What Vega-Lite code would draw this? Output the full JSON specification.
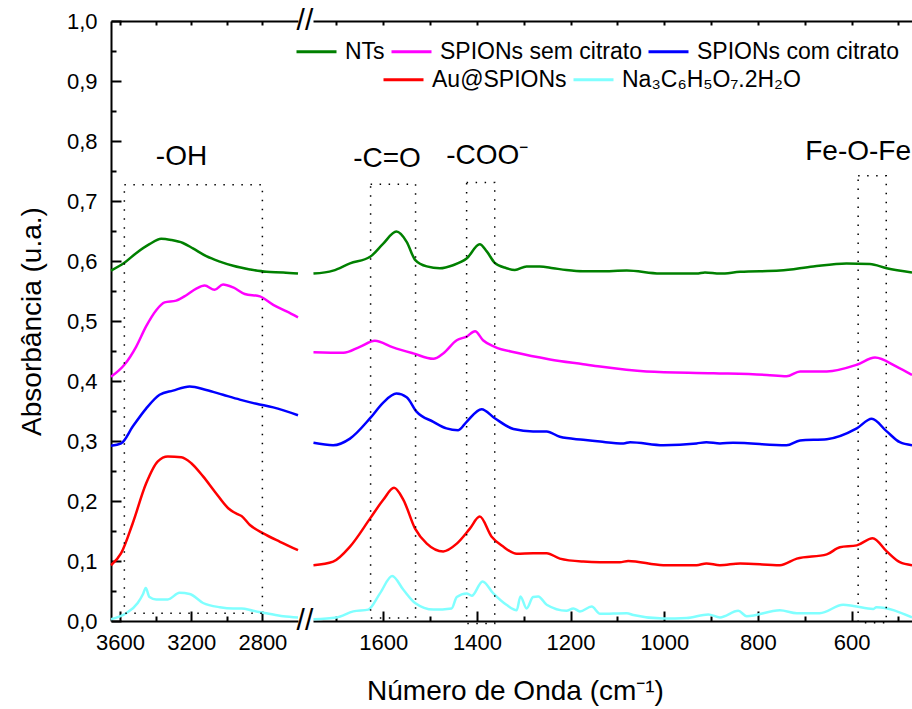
{
 "$schema": "https://vega.github.io/schema/vega-lite/v6.json",
 "padding": {"left": 18, "top": 6, "right": 0, "bottom": 5},
 "bounds": "flush",
 "spacing": 15,
 "config": {
  "font": "Liberation Sans",
  "view": {"stroke": null},
  "axis": {"domainColor": "black", "domainWidth": 2, "tickColor": "black", "tickWidth": 2, "labelColor": "black", "labelFontSize": 22, "labelFont": "Liberation Sans", "titleFont": "Liberation Sans", "titleFontSize": 28, "titleFontWeight": "normal", "titleColor": "black", "grid": false, "labelFlush": false, "labelOverlap": false}
 },
 "datasets": {
  "spectra": [
   {"panel":"L","series":"NTs","wn":3650,"abs":0.584},{"panel":"L","series":"NTs","wn":3575,"abs":0.597},{"panel":"L","series":"NTs","wn":3509,"abs":0.613},{"panel":"L","series":"NTs","wn":3434,"abs":0.628},{"panel":"L","series":"NTs","wn":3368,"abs":0.637},{"panel":"L","series":"NTs","wn":3312,"abs":0.635},{"panel":"L","series":"NTs","wn":3246,"abs":0.630},{"panel":"L","series":"NTs","wn":3190,"abs":0.621},{"panel":"L","series":"NTs","wn":3115,"abs":0.608},{"panel":"L","series":"NTs","wn":3039,"abs":0.599},{"panel":"L","series":"NTs","wn":2964,"abs":0.592},{"panel":"L","series":"NTs","wn":2870,"abs":0.586},{"panel":"L","series":"NTs","wn":2777,"abs":0.582},{"panel":"L","series":"NTs","wn":2683,"abs":0.581},{"panel":"L","series":"NTs","wn":2600,"abs":0.579},
   {"panel":"L","series":"SPIONs sem citrato","wn":3650,"abs":0.407},{"panel":"L","series":"SPIONs sem citrato","wn":3575,"abs":0.427},{"panel":"L","series":"SPIONs sem citrato","wn":3509,"abs":0.457},{"panel":"L","series":"SPIONs sem citrato","wn":3453,"abs":0.491},{"panel":"L","series":"SPIONs sem citrato","wn":3396,"abs":0.518},{"panel":"L","series":"SPIONs sem citrato","wn":3349,"abs":0.531},{"panel":"L","series":"SPIONs sem citrato","wn":3284,"abs":0.534},{"panel":"L","series":"SPIONs sem citrato","wn":3227,"abs":0.543},{"panel":"L","series":"SPIONs sem citrato","wn":3171,"abs":0.554},{"panel":"L","series":"SPIONs sem citrato","wn":3124,"abs":0.559},{"panel":"L","series":"SPIONs sem citrato","wn":3068,"abs":0.552},{"panel":"L","series":"SPIONs sem citrato","wn":3021,"abs":0.561},{"panel":"L","series":"SPIONs sem citrato","wn":2964,"abs":0.556},{"panel":"L","series":"SPIONs sem citrato","wn":2899,"abs":0.545},{"panel":"L","series":"SPIONs sem citrato","wn":2814,"abs":0.541},{"panel":"L","series":"SPIONs sem citrato","wn":2739,"abs":0.527},{"panel":"L","series":"SPIONs sem citrato","wn":2664,"abs":0.516},{"panel":"L","series":"SPIONs sem citrato","wn":2600,"abs":0.506},
   {"panel":"L","series":"SPIONs com citrato","wn":3650,"abs":0.292},{"panel":"L","series":"SPIONs com citrato","wn":3593,"abs":0.296},{"panel":"L","series":"SPIONs com citrato","wn":3528,"abs":0.324},{"panel":"L","series":"SPIONs com citrato","wn":3453,"abs":0.354},{"panel":"L","series":"SPIONs com citrato","wn":3377,"abs":0.377},{"panel":"L","series":"SPIONs com citrato","wn":3302,"abs":0.384},{"panel":"L","series":"SPIONs com citrato","wn":3208,"abs":0.391},{"panel":"L","series":"SPIONs com citrato","wn":3115,"abs":0.385},{"panel":"L","series":"SPIONs com citrato","wn":3021,"abs":0.377},{"panel":"L","series":"SPIONs com citrato","wn":2927,"abs":0.369},{"panel":"L","series":"SPIONs com citrato","wn":2833,"abs":0.362},{"panel":"L","series":"SPIONs com citrato","wn":2739,"abs":0.356},{"panel":"L","series":"SPIONs com citrato","wn":2600,"abs":0.343},
   {"panel":"L","series":"Au@SPIONs","wn":3650,"abs":0.093},{"panel":"L","series":"Au@SPIONs","wn":3593,"abs":0.113},{"panel":"L","series":"Au@SPIONs","wn":3528,"abs":0.163},{"panel":"L","series":"Au@SPIONs","wn":3453,"abs":0.229},{"panel":"L","series":"Au@SPIONs","wn":3387,"abs":0.266},{"panel":"L","series":"Au@SPIONs","wn":3331,"abs":0.274},{"panel":"L","series":"Au@SPIONs","wn":3255,"abs":0.273},{"panel":"L","series":"Au@SPIONs","wn":3199,"abs":0.263},{"panel":"L","series":"Au@SPIONs","wn":3133,"abs":0.241},{"panel":"L","series":"Au@SPIONs","wn":3068,"abs":0.216},{"panel":"L","series":"Au@SPIONs","wn":2992,"abs":0.188},{"panel":"L","series":"Au@SPIONs","wn":2940,"abs":0.178},{"panel":"L","series":"Au@SPIONs","wn":2917,"abs":0.175},{"panel":"L","series":"Au@SPIONs","wn":2870,"abs":0.160},{"panel":"L","series":"Au@SPIONs","wn":2795,"abs":0.146},{"panel":"L","series":"Au@SPIONs","wn":2701,"abs":0.132},{"panel":"L","series":"Au@SPIONs","wn":2600,"abs":0.118},
   {"panel":"L","series":"Na₃C₆H₅O₇.2H₂O","wn":3650,"abs":0.003},{"panel":"L","series":"Na₃C₆H₅O₇.2H₂O","wn":3565,"abs":0.013},{"panel":"L","series":"Na₃C₆H₅O₇.2H₂O","wn":3500,"abs":0.030},{"panel":"L","series":"Na₃C₆H₅O₇.2H₂O","wn":3470,"abs":0.045},{"panel":"L","series":"Na₃C₆H₅O₇.2H₂O","wn":3455,"abs":0.055},{"panel":"L","series":"Na₃C₆H₅O₇.2H₂O","wn":3434,"abs":0.040},{"panel":"L","series":"Na₃C₆H₅O₇.2H₂O","wn":3396,"abs":0.036},{"panel":"L","series":"Na₃C₆H₅O₇.2H₂O","wn":3331,"abs":0.036},{"panel":"L","series":"Na₃C₆H₅O₇.2H₂O","wn":3265,"abs":0.047},{"panel":"L","series":"Na₃C₆H₅O₇.2H₂O","wn":3208,"abs":0.045},{"panel":"L","series":"Na₃C₆H₅O₇.2H₂O","wn":3133,"abs":0.030},{"panel":"L","series":"Na₃C₆H₅O₇.2H₂O","wn":3039,"abs":0.023},{"panel":"L","series":"Na₃C₆H₅O₇.2H₂O","wn":2964,"abs":0.021},{"panel":"L","series":"Na₃C₆H₅O₇.2H₂O","wn":2917,"abs":0.021},{"panel":"L","series":"Na₃C₆H₅O₇.2H₂O","wn":2852,"abs":0.017},{"panel":"L","series":"Na₃C₆H₅O₇.2H₂O","wn":2777,"abs":0.013},{"panel":"L","series":"Na₃C₆H₅O₇.2H₂O","wn":2683,"abs":0.008},{"panel":"L","series":"Na₃C₆H₅O₇.2H₂O","wn":2600,"abs":0.006},
   {"panel":"R","series":"NTs","wn":1749,"abs":0.579},{"panel":"R","series":"NTs","wn":1707,"abs":0.584},{"panel":"R","series":"NTs","wn":1671,"abs":0.596},{"panel":"R","series":"NTs","wn":1628,"abs":0.607},{"panel":"R","series":"NTs","wn":1600,"abs":0.629},{"panel":"R","series":"NTs","wn":1572,"abs":0.649},{"panel":"R","series":"NTs","wn":1550,"abs":0.632},{"panel":"R","series":"NTs","wn":1532,"abs":0.602},{"panel":"R","series":"NTs","wn":1507,"abs":0.591},{"panel":"R","series":"NTs","wn":1479,"abs":0.588},{"panel":"R","series":"NTs","wn":1451,"abs":0.593},{"panel":"R","series":"NTs","wn":1422,"abs":0.604},{"panel":"R","series":"NTs","wn":1394,"abs":0.628},{"panel":"R","series":"NTs","wn":1379,"abs":0.616},{"panel":"R","series":"NTs","wn":1362,"abs":0.597},{"panel":"R","series":"NTs","wn":1337,"abs":0.588},{"panel":"R","series":"NTs","wn":1319,"abs":0.585},{"panel":"R","series":"NTs","wn":1294,"abs":0.591},{"panel":"R","series":"NTs","wn":1266,"abs":0.591},{"panel":"R","series":"NTs","wn":1237,"abs":0.588},{"panel":"R","series":"NTs","wn":1209,"abs":0.585},{"panel":"R","series":"NTs","wn":1173,"abs":0.583},{"panel":"R","series":"NTs","wn":1137,"abs":0.583},{"panel":"R","series":"NTs","wn":1080,"abs":0.584},{"panel":"R","series":"NTs","wn":1009,"abs":0.579},{"panel":"R","series":"NTs","wn":931,"abs":0.579},{"panel":"R","series":"NTs","wn":913,"abs":0.581},{"panel":"R","series":"NTs","wn":881,"abs":0.579},{"panel":"R","series":"NTs","wn":838,"abs":0.582},{"panel":"R","series":"NTs","wn":753,"abs":0.584},{"panel":"R","series":"NTs","wn":682,"abs":0.591},{"panel":"R","series":"NTs","wn":611,"abs":0.596},{"panel":"R","series":"NTs","wn":561,"abs":0.595},{"panel":"R","series":"NTs","wn":525,"abs":0.588},{"panel":"R","series":"NTs","wn":471,"abs":0.581},
   {"panel":"R","series":"SPIONs sem citrato","wn":1749,"abs":0.448},{"panel":"R","series":"SPIONs sem citrato","wn":1685,"abs":0.447},{"panel":"R","series":"SPIONs sem citrato","wn":1650,"abs":0.457},{"panel":"R","series":"SPIONs sem citrato","wn":1618,"abs":0.467},{"panel":"R","series":"SPIONs sem citrato","wn":1579,"abs":0.456},{"panel":"R","series":"SPIONs sem citrato","wn":1536,"abs":0.446},{"panel":"R","series":"SPIONs sem citrato","wn":1493,"abs":0.437},{"panel":"R","series":"SPIONs sem citrato","wn":1472,"abs":0.446},{"panel":"R","series":"SPIONs sem citrato","wn":1443,"abs":0.468},{"panel":"R","series":"SPIONs sem citrato","wn":1422,"abs":0.474},{"panel":"R","series":"SPIONs sem citrato","wn":1404,"abs":0.483},{"panel":"R","series":"SPIONs sem citrato","wn":1387,"abs":0.468},{"panel":"R","series":"SPIONs sem citrato","wn":1362,"abs":0.457},{"panel":"R","series":"SPIONs sem citrato","wn":1315,"abs":0.447},{"panel":"R","series":"SPIONs sem citrato","wn":1244,"abs":0.436},{"panel":"R","series":"SPIONs sem citrato","wn":1173,"abs":0.428},{"panel":"R","series":"SPIONs sem citrato","wn":1137,"abs":0.424},{"panel":"R","series":"SPIONs sem citrato","wn":1038,"abs":0.416},{"panel":"R","series":"SPIONs sem citrato","wn":895,"abs":0.413},{"panel":"R","series":"SPIONs sem citrato","wn":781,"abs":0.410},{"panel":"R","series":"SPIONs sem citrato","wn":739,"abs":0.408},{"panel":"R","series":"SPIONs sem citrato","wn":710,"abs":0.416},{"panel":"R","series":"SPIONs sem citrato","wn":653,"abs":0.416},{"panel":"R","series":"SPIONs sem citrato","wn":589,"abs":0.427},{"panel":"R","series":"SPIONs sem citrato","wn":550,"abs":0.439},{"panel":"R","series":"SPIONs sem citrato","wn":504,"abs":0.424},{"panel":"R","series":"SPIONs sem citrato","wn":471,"abs":0.410},
   {"panel":"R","series":"SPIONs com citrato","wn":1749,"abs":0.297},{"panel":"R","series":"SPIONs com citrato","wn":1707,"abs":0.293},{"panel":"R","series":"SPIONs com citrato","wn":1671,"abs":0.304},{"panel":"R","series":"SPIONs com citrato","wn":1628,"abs":0.338},{"panel":"R","series":"SPIONs com citrato","wn":1600,"abs":0.364},{"panel":"R","series":"SPIONs com citrato","wn":1572,"abs":0.379},{"panel":"R","series":"SPIONs com citrato","wn":1550,"abs":0.373},{"panel":"R","series":"SPIONs com citrato","wn":1529,"abs":0.349},{"panel":"R","series":"SPIONs com citrato","wn":1493,"abs":0.332},{"panel":"R","series":"SPIONs com citrato","wn":1465,"abs":0.321},{"panel":"R","series":"SPIONs com citrato","wn":1440,"abs":0.318},{"panel":"R","series":"SPIONs com citrato","wn":1422,"abs":0.332},{"panel":"R","series":"SPIONs com citrato","wn":1390,"abs":0.353},{"panel":"R","series":"SPIONs com citrato","wn":1362,"abs":0.338},{"panel":"R","series":"SPIONs com citrato","wn":1322,"abs":0.320},{"panel":"R","series":"SPIONs com citrato","wn":1280,"abs":0.316},{"panel":"R","series":"SPIONs com citrato","wn":1251,"abs":0.316},{"panel":"R","series":"SPIONs com citrato","wn":1223,"abs":0.307},{"panel":"R","series":"SPIONs com citrato","wn":1173,"abs":0.302},{"panel":"R","series":"SPIONs com citrato","wn":1137,"abs":0.299},{"panel":"R","series":"SPIONs com citrato","wn":1087,"abs":0.296},{"panel":"R","series":"SPIONs com citrato","wn":1073,"abs":0.298},{"panel":"R","series":"SPIONs com citrato","wn":1002,"abs":0.293},{"panel":"R","series":"SPIONs com citrato","wn":931,"abs":0.296},{"panel":"R","series":"SPIONs com citrato","wn":910,"abs":0.298},{"panel":"R","series":"SPIONs com citrato","wn":881,"abs":0.296},{"panel":"R","series":"SPIONs com citrato","wn":853,"abs":0.297},{"panel":"R","series":"SPIONs com citrato","wn":739,"abs":0.293},{"panel":"R","series":"SPIONs com citrato","wn":710,"abs":0.301},{"panel":"R","series":"SPIONs com citrato","wn":653,"abs":0.303},{"panel":"R","series":"SPIONs com citrato","wn":589,"abs":0.321},{"panel":"R","series":"SPIONs com citrato","wn":557,"abs":0.337},{"panel":"R","series":"SPIONs com citrato","wn":525,"abs":0.316},{"panel":"R","series":"SPIONs com citrato","wn":497,"abs":0.298},{"panel":"R","series":"SPIONs com citrato","wn":471,"abs":0.293},
   {"panel":"R","series":"Au@SPIONs","wn":1749,"abs":0.093},{"panel":"R","series":"Au@SPIONs","wn":1707,"abs":0.099},{"panel":"R","series":"Au@SPIONs","wn":1671,"abs":0.124},{"panel":"R","series":"Au@SPIONs","wn":1628,"abs":0.171},{"panel":"R","series":"Au@SPIONs","wn":1600,"abs":0.202},{"panel":"R","series":"Au@SPIONs","wn":1577,"abs":0.222},{"panel":"R","series":"Au@SPIONs","wn":1557,"abs":0.202},{"panel":"R","series":"Au@SPIONs","wn":1532,"abs":0.154},{"panel":"R","series":"Au@SPIONs","wn":1507,"abs":0.129},{"panel":"R","series":"Au@SPIONs","wn":1472,"abs":0.116},{"panel":"R","series":"Au@SPIONs","wn":1443,"abs":0.129},{"panel":"R","series":"Au@SPIONs","wn":1415,"abs":0.154},{"panel":"R","series":"Au@SPIONs","wn":1394,"abs":0.174},{"panel":"R","series":"Au@SPIONs","wn":1369,"abs":0.141},{"panel":"R","series":"Au@SPIONs","wn":1344,"abs":0.124},{"panel":"R","series":"Au@SPIONs","wn":1315,"abs":0.112},{"panel":"R","series":"Au@SPIONs","wn":1280,"abs":0.113},{"panel":"R","series":"Au@SPIONs","wn":1251,"abs":0.113},{"panel":"R","series":"Au@SPIONs","wn":1223,"abs":0.104},{"panel":"R","series":"Au@SPIONs","wn":1173,"abs":0.099},{"panel":"R","series":"Au@SPIONs","wn":1137,"abs":0.098},{"panel":"R","series":"Au@SPIONs","wn":1095,"abs":0.098},{"panel":"R","series":"Au@SPIONs","wn":1077,"abs":0.100},{"panel":"R","series":"Au@SPIONs","wn":1002,"abs":0.093},{"panel":"R","series":"Au@SPIONs","wn":931,"abs":0.093},{"panel":"R","series":"Au@SPIONs","wn":910,"abs":0.096},{"panel":"R","series":"Au@SPIONs","wn":881,"abs":0.093},{"panel":"R","series":"Au@SPIONs","wn":838,"abs":0.096},{"panel":"R","series":"Au@SPIONs","wn":753,"abs":0.093},{"panel":"R","series":"Au@SPIONs","wn":717,"abs":0.104},{"panel":"R","series":"Au@SPIONs","wn":653,"abs":0.111},{"panel":"R","series":"Au@SPIONs","wn":625,"abs":0.123},{"panel":"R","series":"Au@SPIONs","wn":589,"abs":0.126},{"panel":"R","series":"Au@SPIONs","wn":555,"abs":0.138},{"panel":"R","series":"Au@SPIONs","wn":525,"abs":0.116},{"panel":"R","series":"Au@SPIONs","wn":497,"abs":0.098},{"panel":"R","series":"Au@SPIONs","wn":471,"abs":0.093},
   {"panel":"R","series":"Na₃C₆H₅O₇.2H₂O","wn":1749,"abs":0.003},{"panel":"R","series":"Na₃C₆H₅O₇.2H₂O","wn":1700,"abs":0.006},{"panel":"R","series":"Na₃C₆H₅O₇.2H₂O","wn":1664,"abs":0.016},{"panel":"R","series":"Na₃C₆H₅O₇.2H₂O","wn":1632,"abs":0.019},{"panel":"R","series":"Na₃C₆H₅O₇.2H₂O","wn":1607,"abs":0.046},{"panel":"R","series":"Na₃C₆H₅O₇.2H₂O","wn":1581,"abs":0.075},{"panel":"R","series":"Na₃C₆H₅O₇.2H₂O","wn":1557,"abs":0.052},{"panel":"R","series":"Na₃C₆H₅O₇.2H₂O","wn":1532,"abs":0.030},{"panel":"R","series":"Na₃C₆H₅O₇.2H₂O","wn":1493,"abs":0.019},{"panel":"R","series":"Na₃C₆H₅O₇.2H₂O","wn":1454,"abs":0.021},{"panel":"R","series":"Na₃C₆H₅O₇.2H₂O","wn":1443,"abs":0.040},{"panel":"R","series":"Na₃C₆H₅O₇.2H₂O","wn":1422,"abs":0.046},{"panel":"R","series":"Na₃C₆H₅O₇.2H₂O","wn":1411,"abs":0.042},{"panel":"R","series":"Na₃C₆H₅O₇.2H₂O","wn":1388,"abs":0.066},{"panel":"R","series":"Na₃C₆H₅O₇.2H₂O","wn":1365,"abs":0.046},{"panel":"R","series":"Na₃C₆H₅O₇.2H₂O","wn":1337,"abs":0.027},{"panel":"R","series":"Na₃C₆H₅O₇.2H₂O","wn":1315,"abs":0.018},{"panel":"R","series":"Na₃C₆H₅O₇.2H₂O","wn":1307,"abs":0.041},{"panel":"R","series":"Na₃C₆H₅O₇.2H₂O","wn":1294,"abs":0.021},{"panel":"R","series":"Na₃C₆H₅O₇.2H₂O","wn":1280,"abs":0.040},{"panel":"R","series":"Na₃C₆H₅O₇.2H₂O","wn":1269,"abs":0.041},{"panel":"R","series":"Na₃C₆H₅O₇.2H₂O","wn":1251,"abs":0.027},{"panel":"R","series":"Na₃C₆H₅O₇.2H₂O","wn":1209,"abs":0.017},{"panel":"R","series":"Na₃C₆H₅O₇.2H₂O","wn":1194,"abs":0.021},{"panel":"R","series":"Na₃C₆H₅O₇.2H₂O","wn":1180,"abs":0.016},{"panel":"R","series":"Na₃C₆H₅O₇.2H₂O","wn":1155,"abs":0.024},{"panel":"R","series":"Na₃C₆H₅O₇.2H₂O","wn":1137,"abs":0.012},{"panel":"R","series":"Na₃C₆H₅O₇.2H₂O","wn":1080,"abs":0.013},{"panel":"R","series":"Na₃C₆H₅O₇.2H₂O","wn":1066,"abs":0.010},{"panel":"R","series":"Na₃C₆H₅O₇.2H₂O","wn":1002,"abs":0.004},{"panel":"R","series":"Na₃C₆H₅O₇.2H₂O","wn":952,"abs":0.005},{"panel":"R","series":"Na₃C₆H₅O₇.2H₂O","wn":906,"abs":0.011},{"panel":"R","series":"Na₃C₆H₅O₇.2H₂O","wn":881,"abs":0.006},{"panel":"R","series":"Na₃C₆H₅O₇.2H₂O","wn":842,"abs":0.017},{"panel":"R","series":"Na₃C₆H₅O₇.2H₂O","wn":824,"abs":0.008},{"panel":"R","series":"Na₃C₆H₅O₇.2H₂O","wn":753,"abs":0.018},{"panel":"R","series":"Na₃C₆H₅O₇.2H₂O","wn":717,"abs":0.013},{"panel":"R","series":"Na₃C₆H₅O₇.2H₂O","wn":668,"abs":0.013},{"panel":"R","series":"Na₃C₆H₅O₇.2H₂O","wn":618,"abs":0.027},{"panel":"R","series":"Na₃C₆H₅O₇.2H₂O","wn":596,"abs":0.025},{"panel":"R","series":"Na₃C₆H₅O₇.2H₂O","wn":554,"abs":0.020},{"panel":"R","series":"Na₃C₆H₅O₇.2H₂O","wn":547,"abs":0.023},{"panel":"R","series":"Na₃C₆H₅O₇.2H₂O","wn":471,"abs":0.006}
  ],
  "boxes": [
   {"panel":"L","w1":3575,"w2":2800,"a1":0.013,"a2":0.727},
   {"panel":"R","w1":1627,"w2":1531,"a1":0.005,"a2":0.728},
   {"panel":"R","w1":1422,"w2":1362,"a1":-0.004,"a2":0.731},
   {"panel":"R","w1":586,"w2":526,"a1":-0.003,"a2":0.742}
  ],
  "notes": [
   {"panel":"L","text":"-OH","wn":3254,"abs":0.76},
   {"panel":"R","text":"-C=O","wn":1592,"abs":0.757},
   {"panel":"R","text":"-COO⁻","wn":1378,"abs":0.762},
   {"panel":"R","text":"Fe-O-Fe","wn":586,"abs":0.768}
  ],
  "breaks": [
   {"wn":2561,"abs":1.0},
   {"wn":2561,"abs":0.0}
  ]
 },
 "hconcat": [
  {
   "width": 187,
   "height": 600,
   "resolve": {"axis": {"x": "independent", "y": "independent"}},
   "layer": [
    {
     "data": {"name": "spectra"},
     "transform": [{"filter": "datum.panel == 'L'"}, {"filter": {"field": "series", "oneOf": ["NTs", "SPIONs sem citrato", "SPIONs com citrato"]}}],
     "mark": {"type": "line", "strokeWidth": 2.5, "interpolate": "monotone"},
     "encoding": {
      "x": {"field": "wn", "type": "quantitative", "scale": {"domain": [2600, 3650], "reverse": true, "nice": false, "zero": false},
            "axis": {"orient": "bottom", "values": [3600, 3400, 3200, 3000, 2800], "format": "d", "labelExpr": "datum.value % 400 == 0 ? datum.label : ''", "tickSize": {"condition": {"test": "datum.value % 400 == 0", "value": -10}, "value": -5}, "labelPadding": 21, "title": null}},
      "y": {"field": "abs", "type": "quantitative", "scale": {"domain": [0, 1], "nice": false},
            "axis": {"orient": "left", "values": [0, 0.1, 0.2, 0.3, 0.4, 0.5, 0.6, 0.7, 0.8, 0.9, 1.0], "format": ".1f", "labelExpr": "replace(datum.label, '.', ',')", "tickSize": -10, "labelPadding": 24, "title": "Absorbância (u.a.)", "titlePadding": 20}},
      "color": {"field": "series", "type": "nominal", "scale": {"domain": ["NTs", "SPIONs sem citrato", "SPIONs com citrato"], "range": ["#008000", "#FF00FF", "#0000FF"]},
                "legend": {"orient": "none", "legendX": 184, "legendY": 9, "direction": "horizontal", "title": null, "symbolType": "stroke", "symbolSize": 1600, "symbolStrokeWidth": 3, "labelFontSize": 23, "labelColor": "black", "labelOffset": 7, "columnPadding": 0, "padding": 0, "labelLimit": 400}}
     }
    },
    {
     "data": {"name": "spectra"},
     "transform": [{"filter": "datum.panel == 'L'"}, {"filter": {"field": "series", "oneOf": ["Au@SPIONs", "Na₃C₆H₅O₇.2H₂O"]}}],
     "mark": {"type": "line", "strokeWidth": 2.5, "interpolate": "monotone"},
     "encoding": {
      "x": {"field": "wn", "type": "quantitative", "axis": {"orient": "top", "values": [3600, 3400, 3200, 3000, 2800], "labels": false, "tickSize": -4, "title": null}},
      "y": {"field": "abs", "type": "quantitative", "axis": {"orient": "left", "values": [0.05, 0.15, 0.25, 0.35, 0.45, 0.55, 0.65, 0.75, 0.85, 0.95], "labels": false, "domain": false, "tickSize": -5, "title": null}},
      "stroke": {"field": "series", "type": "nominal", "scale": {"domain": ["Au@SPIONs", "Na₃C₆H₅O₇.2H₂O"], "range": ["#FF0000", "#80FFFF"]},
                 "legend": {"orient": "none", "legendX": 271, "legendY": 37, "direction": "horizontal", "title": null, "symbolType": "stroke", "symbolSize": 1600, "symbolStrokeWidth": 3, "labelFontSize": 23, "labelColor": "black", "labelOffset": 7, "columnPadding": 0, "padding": 0, "labelLimit": 400}}
     }
    },
    {
     "data": {"name": "boxes"},
     "transform": [{"filter": "datum.panel == 'L'"}],
     "mark": {"type": "rect", "fill": null, "stroke": "black", "strokeWidth": 1.5, "strokeDash": [1.5, 7.5]},
     "encoding": {
      "x": {"field": "w1", "type": "quantitative", "axis": null},
      "x2": {"field": "w2"},
      "y": {"field": "a1", "type": "quantitative", "axis": null},
      "y2": {"field": "a2"}
     }
    },
    {
     "data": {"name": "notes"},
     "transform": [{"filter": "datum.panel == 'L'"}],
     "mark": {"type": "text", "fontSize": 28, "align": "center", "baseline": "alphabetic", "color": "black"},
     "encoding": {
      "x": {"field": "wn", "type": "quantitative", "axis": null},
      "y": {"field": "abs", "type": "quantitative", "axis": null},
      "text": {"field": "text"}
     }
    },
    {
     "data": {"name": "breaks"},
     "mark": {"type": "text", "fontSize": 30, "align": "center", "baseline": "middle", "color": "black", "text": "//"},
     "encoding": {
      "x": {"field": "wn", "type": "quantitative", "axis": null},
      "y": {"field": "abs", "type": "quantitative", "axis": null}
     }
    }
   ]
  },
  {
   "width": 599,
   "height": 600,
   "resolve": {"axis": {"x": "independent"}},
   "layer": [
    {
     "data": {"name": "spectra"},
     "transform": [{"filter": "datum.panel == 'R'"}, {"filter": {"field": "series", "oneOf": ["NTs", "SPIONs sem citrato", "SPIONs com citrato"]}}],
     "mark": {"type": "line", "strokeWidth": 2.5, "interpolate": "monotone"},
     "encoding": {
      "x": {"field": "wn", "type": "quantitative", "scale": {"domain": [471, 1750], "reverse": true, "nice": false, "zero": false},
            "axis": {"orient": "bottom", "values": [1700, 1600, 1500, 1400, 1300, 1200, 1100, 1000, 900, 800, 700, 600, 500], "format": "d", "labelExpr": "datum.value % 200 == 0 ? datum.label : ''", "tickSize": {"condition": {"test": "datum.value % 200 == 0", "value": -10}, "value": -5}, "labelPadding": 21, "title": "Número de Onda (cm⁻¹)", "titleX": 202, "titleY": 78, "titleAlign": "center", "titleBaseline": "alphabetic"}},
      "y": {"field": "abs", "type": "quantitative", "scale": {"domain": [0, 1], "nice": false}, "axis": null},
      "color": {"field": "series", "type": "nominal", "scale": {"domain": ["NTs", "SPIONs sem citrato", "SPIONs com citrato"], "range": ["#008000", "#FF00FF", "#0000FF"]},
                "legend": {"orient": "none", "legendX": 184, "legendY": 9, "direction": "horizontal", "title": null, "symbolType": "stroke", "symbolSize": 1600, "symbolStrokeWidth": 3, "labelFontSize": 23, "labelColor": "black", "labelOffset": 7, "columnPadding": 0, "padding": 0, "labelLimit": 400}}
     }
    },
    {
     "data": {"name": "spectra"},
     "transform": [{"filter": "datum.panel == 'R'"}, {"filter": {"field": "series", "oneOf": ["Au@SPIONs", "Na₃C₆H₅O₇.2H₂O"]}}],
     "mark": {"type": "line", "strokeWidth": 2.5, "interpolate": "monotone"},
     "encoding": {
      "x": {"field": "wn", "type": "quantitative", "axis": {"orient": "top", "values": [1700, 1600, 1500, 1400, 1300, 1200, 1100, 1000, 900, 800, 700, 600, 500], "labels": false, "tickSize": -4, "title": null}},
      "y": {"field": "abs", "type": "quantitative", "axis": null},
      "stroke": {"field": "series", "type": "nominal", "scale": {"domain": ["Au@SPIONs", "Na₃C₆H₅O₇.2H₂O"], "range": ["#FF0000", "#80FFFF"]},
                 "legend": {"orient": "none", "legendX": 271, "legendY": 37, "direction": "horizontal", "title": null, "symbolType": "stroke", "symbolSize": 1600, "symbolStrokeWidth": 3, "labelFontSize": 23, "labelColor": "black", "labelOffset": 7, "columnPadding": 0, "padding": 0, "labelLimit": 400}}
     }
    },
    {
     "data": {"name": "boxes"},
     "transform": [{"filter": "datum.panel == 'R'"}],
     "mark": {"type": "rect", "fill": null, "stroke": "black", "strokeWidth": 1.5, "strokeDash": [1.5, 7.5]},
     "encoding": {
      "x": {"field": "w1", "type": "quantitative", "axis": null},
      "x2": {"field": "w2"},
      "y": {"field": "a1", "type": "quantitative", "axis": null},
      "y2": {"field": "a2"}
     }
    },
    {
     "data": {"name": "notes"},
     "transform": [{"filter": "datum.panel == 'R'"}],
     "mark": {"type": "text", "fontSize": 28, "align": "center", "baseline": "alphabetic", "color": "black"},
     "encoding": {
      "x": {"field": "wn", "type": "quantitative", "axis": null},
      "y": {"field": "abs", "type": "quantitative", "axis": null},
      "text": {"field": "text"}
     }
    }
   ]
  }
 ]
}
